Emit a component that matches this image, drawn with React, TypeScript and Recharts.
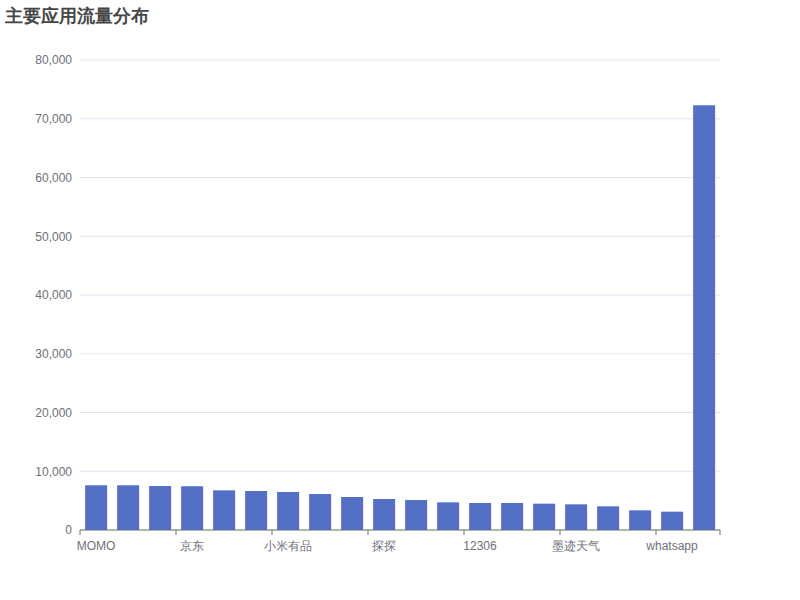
import React from "react";
import { BarChart, Bar, XAxis, YAxis, CartesianGrid } from "recharts";

const apps = [
  "MOMO", "微信", "抖音", "京东", "淘宝", "支付宝", "小米有品", "微博", "快手", "探探",
  "美团", "百度", "12306", "高德地图", "QQ音乐", "墨迹天气", "拼多多", "网易云音乐", "whatsapp", "其他",
];
const traffic = [
  7600, 7600, 7500, 7450, 6750, 6640, 6470, 6130, 5620, 5280,
  5100, 4710, 4600, 4600, 4480, 4370, 4030, 3350, 3120, 72300,
];
const yTicks = [0, 10000, 20000, 30000, 40000, 50000, 60000, 70000, 80000];

const data = apps.map((name, i) => ({ name, value: traffic[i] }));

const font = "sans-serif";
const axisColor = "#6E7079";

// 类目轴: 刻度线在类目边界, 每3个显示一个标签
const CategoryTick = (props: any) => {
  const { x, y, index } = props;
  const half = 16;
  if (index % 3 !== 0 && index !== apps.length - 1) return null;
  return (
    <g>
      {index % 3 === 0 && (
        <>
          <line x1={x - half} x2={x - half} y1={y - 8} y2={y - 3} stroke={axisColor} />
          <text x={x} y={y + 12} textAnchor="middle" fill={axisColor} fontSize={12} fontFamily={font}>
            {props.payload.value}
          </text>
        </>
      )}
      {index === apps.length - 1 && (
        <line x1={x + half} x2={x + half} y1={y - 8} y2={y - 3} stroke={axisColor} />
      )}
    </g>
  );
};

export default function App() {
  return (
    <div style={{ position: "absolute", left: 0, top: 0, width: 800, height: 600, background: "#fff" }}>
      <div
        style={{
          position: "absolute",
          left: 5,
          top: 4,
          fontFamily: font,
          fontWeight: "bold",
          fontSize: 18,
          color: "#464646",
        }}
      >
        主要应用流量分布
      </div>
      <BarChart
        width={800}
        height={600}
        data={data}
        margin={{ top: 60, right: 80, bottom: 40, left: 0 }}
        barCategoryGap="16%"
      >
        <CartesianGrid vertical={false} stroke="#E0E6F1" />
        <XAxis
          dataKey="name"
          height={30}
          interval={0}
          tickLine={false}
          stroke={axisColor}
          tick={<CategoryTick />}
          tickSize={0}
          tickMargin={8}
        />
        <YAxis
          width={80}
          domain={[0, 80000]}
          ticks={yTicks}
          axisLine={false}
          tickLine={false}
          tickSize={0}
          tickMargin={8}
          tick={{ fill: axisColor, fontSize: 12, fontFamily: font }}
          tickFormatter={(v: number) => v.toLocaleString("en-US")}
        />
        <Bar dataKey="value" fill="#5470C6" isAnimationActive={false} />
      </BarChart>
    </div>
  );
}
